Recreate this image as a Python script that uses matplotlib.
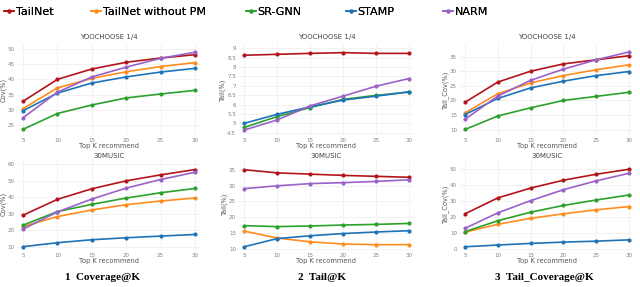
import matplotlib
matplotlib.use("Agg")
from matplotlib import pyplot as plt

K = [5, 10, 15, 20, 25, 30]

NAMES = ["TailNet", "TailNet without PM", "SR-GNN", "STAMP", "NARM"]
COLORS = ["#B3141B", "#FF8C1F", "#2CA02C", "#1F73B7", "#9A62C8"]

# YOOCHOOSE 1/4
yc_cov = {
    "TailNet": [32.8, 40.0, 43.4, 45.6, 47.0, 48.1],
    "TailNet without PM": [30.4, 37.2, 40.3, 42.5, 44.2, 45.5],
    "SR-GNN": [23.6, 28.8, 31.6, 33.9, 35.2, 36.4],
    "STAMP": [29.7, 35.5, 38.8, 40.8, 42.4, 43.6],
    "NARM": [27.4, 35.8, 40.8, 44.0, 46.9, 48.9],
}
yc_tail = {
    "TailNet": [8.63, 8.68, 8.73, 8.77, 8.73, 8.73],
    "SR-GNN": [4.78, 5.36, 5.84, 6.28, 6.49, 6.67],
    "STAMP": [5.00, 5.48, 5.88, 6.24, 6.45, 6.68],
    "NARM": [4.64, 5.18, 5.93, 6.45, 6.98, 7.39],
}
yc_tailcov = {
    "TailNet": [19.4, 26.3, 30.0, 32.5, 33.9, 35.3],
    "TailNet without PM": [15.8, 22.3, 26.0, 28.5, 30.5, 32.2],
    "SR-GNN": [10.1, 14.7, 17.5, 20.0, 21.4, 22.8],
    "STAMP": [15.2, 20.7, 24.3, 26.6, 28.5, 29.9],
    "NARM": [13.6, 21.5, 26.9, 30.7, 33.9, 36.6],
}

# 30MUSIC
mu_cov = {
    "TailNet": [29.0, 38.6, 45.0, 49.8, 53.4, 56.6],
    "TailNet without PM": [22.2, 28.2, 32.2, 35.4, 37.6, 39.4],
    "SR-GNN": [23.0, 31.2, 35.6, 39.4, 42.6, 45.2],
    "STAMP": [10.0, 12.4, 14.2, 15.4, 16.4, 17.4],
    "NARM": [20.6, 31.0, 38.8, 45.4, 50.6, 55.0],
}
mu_tail = {
    "TailNet": [35.0, 34.0, 33.6, 33.2, 32.9, 32.6],
    "TailNet without PM": [15.6, 13.4, 12.2, 11.5, 11.3, 11.3],
    "SR-GNN": [17.3, 17.0, 17.2, 17.5, 17.7, 18.0],
    "STAMP": [10.6, 13.2, 14.1, 14.8, 15.3, 15.7],
    "NARM": [29.0, 29.9, 30.6, 30.9, 31.3, 31.8],
}
mu_tailcov = {
    "TailNet": [22.1, 32.0, 38.1, 43.0, 46.7, 49.8],
    "TailNet without PM": [10.7, 15.6, 19.3, 22.1, 24.6, 26.6],
    "SR-GNN": [11.0, 17.8, 23.1, 27.3, 30.7, 33.8],
    "STAMP": [1.6, 2.7, 3.7, 4.5, 5.1, 5.9],
    "NARM": [13.1, 22.7, 30.3, 37.1, 42.6, 47.3],
}

W, H = 640, 287
fig = plt.figure(figsize=(W / 100, H / 100), dpi=100)

cols = [(17.5, 183), (238.7, 175.6), (459.8, 174.5)]
rows = [(44, 135), (158, 250)]
title_y = [37, 156]

panels = [
    (0, 0, yc_cov, "YOOCHOOSE 1/4", "Cov(%)", (21.75, 51.6), [25, 30, 35, 40, 45, 50]),
    (0, 1, yc_tail, "YOOCHOOSE 1/4", "Tail(%)", (4.38, 9.23), [4.5, 5, 5.5, 6, 6.5, 7, 7.5, 8, 8.5, 9]),
    (0, 2, yc_tailcov, "YOOCHOOSE 1/4", "Tail_Cov(%)", (8.2, 39.3), [10, 15, 20, 25, 30, 35]),
    (1, 0, mu_cov, "30MUSIC", "Cov(%)", (8.0, 63.6), [10, 20, 30, 40, 50, 60]),
    (1, 1, mu_tail, "30MUSIC", "Tail(%)", (9.6, 38.7), [10, 15, 20, 25, 30, 35]),
    (1, 2, mu_tailcov, "30MUSIC", "Tail_Cov(%)", (-0.4, 56.8), [0, 10, 20, 30, 40, 50]),
]

handles = {}
for r, c, data, title, ylab, ylim, yticks in panels:
    x0, w = cols[c]
    top, bot = rows[r]
    ax = fig.add_axes([x0 / W, 1 - bot / H, w / W, (bot - top) / H])
    for name, color in zip(NAMES, COLORS):
        if name not in data:
            continue
        ln, = ax.plot(K, data[name], color=color, lw=1.2, marker="o", ms=2)
        handles[name] = ln
    ax.set_xlim(4.2, 30.8)
    ax.set_ylim(*ylim)
    ax.set_xticks(K)
    ax.set_yticks(yticks)
    ax.set_yticklabels([("%g" % t) for t in yticks])
    ax.tick_params(length=0, labelsize=4, labelcolor="#808080", pad=2)
    for s in ax.spines.values():
        s.set_visible(False)
    ax.grid(True, color="#F0F0F0", lw=0.6)
    ax.set_axisbelow(True)
    fig.text((x0 + w / 2) / W, 1 - title_y[r] / H, title, ha="center", va="center",
             fontsize=5, color="#444444")
    ax.set_ylabel(ylab, fontsize=4.8, color="#555555", labelpad=1)
    ax.set_xlabel("Top K recommend", fontsize=4.8, color="#555555", labelpad=0.5)

captions = [(103, "1  Coverage@K"), (322, "2  Tail@K"), (544, "3  Tail_Coverage@K")]
for cx, txt in captions:
    fig.text(cx / W, 1 - 278 / H, txt, ha="center", va="center",
             fontsize=8, fontweight="bold", family="Liberation Serif")

# legend entries placed one by one along the top
leg_x = [4, 91, 246, 346, 443]
for name, lx in zip(NAMES, leg_x):
    lg = fig.legend([handles[name]], [name], loc="center left",
                    bbox_to_anchor=(lx / W, 1 - 12 / H), frameon=False, fontsize=8,
                    handlelength=0.9, handletextpad=0.15, borderaxespad=0,
                    borderpad=0)
    fig.add_artist(lg)

fig.savefig("out.png", dpi=100)
